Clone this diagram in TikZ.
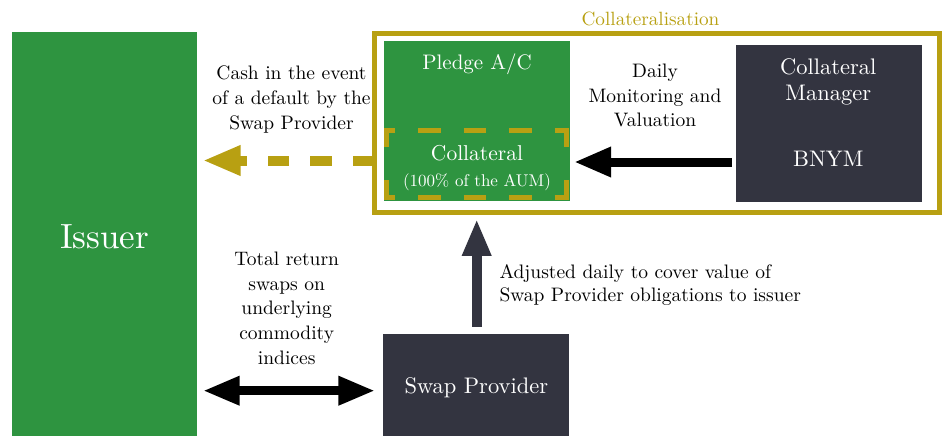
\documentclass[tikz,border=0pt]{standalone}
\usepackage{fontspec}
\setmainfont{lmroman10-regular.otf}
\usepackage{tikz}
\usetikzlibrary{arrows.meta}
\definecolor{issuergreen}{RGB}{46,148,64}
\definecolor{darkbox}{RGB}{51,52,64}
\definecolor{gold}{RGB}{184,160,18}

\begin{document}
\begin{tikzpicture}[x=1pt,y=-1pt,
  box/.style={inner sep=0pt, outer sep=0pt},
  txt/.style={font=\fontsize{19.5}{24.6}\selectfont, align=center, anchor=base},
  wtxt/.style={text=white, font=\fontsize{22.5}{25}\selectfont, align=center, anchor=base}]
        \useasboundingbox (0,0) rectangle (946,436);
        \node [box, fill=issuergreen, minimum width=185pt, minimum height=404pt] (issuer) at (104.7,234) {};
        \node [wtxt, font=\fontsize{35}{38}\selectfont] (issuertext) at (104.7,248) {Issuer};
        \node [box, draw=gold, line width=5pt, minimum width=565pt, minimum height=179.5pt] (frame) at (656.7,123.2) {};
        \node [txt, text=gold, font=\fontsize{19.2}{22}\selectfont] (frametext) at (650.5,26) {Collateralisation};
        \node [box, fill=issuergreen, minimum width=186pt, minimum height=160pt] (pledge) at (477,121) {};
        \node [box, minimum width=185pt, minimum height=72pt] (coll) at (476.5,164) {};
        \draw [gold, line width=5pt, dash pattern=on 22.5pt off 23pt, dash phase=11.5pt] ([yshift=-2.5pt]coll.north west) -- ([yshift=-2.5pt]coll.north east);
        \draw [gold, line width=5pt, dash pattern=on 22.5pt off 23pt, dash phase=11.5pt] ([yshift=2.5pt]coll.south west) -- ([yshift=2.5pt]coll.south east);
        \draw [gold, line width=5pt, dash pattern=on 19pt off 33pt] ([xshift=2.5pt]coll.north west) -- ([xshift=2.5pt]coll.south west);
        \draw [gold, line width=5pt, dash pattern=on 19pt off 33pt] ([xshift=-2.5pt]coll.north east) -- ([xshift=-2.5pt]coll.south east);
        \node [wtxt, font=\fontsize{21}{24}\selectfont] (pledgetext) at (477,69.3) {Pledge A/C};
        \node [wtxt, font=\fontsize{21.5}{24}\selectfont] (colltext) at (477,160.7) {Collateral};
        \node [wtxt, font=\fontsize{17}{20}\selectfont] (aumtext) at (477,186) {(100\% of the AUM)};
        \node [box, fill=darkbox, minimum width=185.7pt, minimum height=156.7pt] (manager) at (828.8,123.3) {};
        \node [wtxt] (managertext) at (828.3,100) {Collateral\\Manager};
        \node [wtxt] (bnym) at (828.3,166.7) {BNYM};
        \node [box, fill=darkbox, minimum width=186pt, minimum height=102pt] (swap) at (476.3,385) {};
        \node [wtxt] (swaptext) at (476.3,393.7) {Swap Provider};
        \node [txt] (daily) at (655,126.7) {Daily\\Monitoring and\\Valuation};
        \node [txt] (cash) at (291.5,129) {Cash in the event\\of a default by the\\Swap Provider};
        \node [txt] (trs) at (286.7,364) {Total return\\swaps on\\underlying\\commodity\\indices};
        \node [txt, align=left, anchor=base west, font=\fontsize{19.5}{23.4}\selectfont] (adjusted) at (496,301.7) {Adjusted daily to cover value of\\Swap Provider obligations to issuer};
        \draw [line width=9pt, -{Triangle[length=37pt, width=28pt]}, shorten <=4pt, shorten >=4pt] (manager.west |- 0,162) -- (pledge.east |- 0,162);
        \draw [gold, line width=10pt, dash pattern=on 21.5pt off 21pt, -{Triangle[length=38pt, width=28pt]}, shorten >=5.5pt] (frame.west |- 0,160.5) -- (issuer.east |- 0,160.5);
        \draw [darkbox, line width=10pt, -{Triangle[length=37pt, width=27pt]}, shorten <=7.3pt, shorten >=6pt] (swap.north -| 476.7,0) -- (frame.south -| 476.7,0);
        \draw [line width=9.3pt, {Triangle[length=37pt, width=27pt]}-{Triangle[length=37pt, width=27pt]}, shorten <=5.5pt, shorten >=8pt] (issuer.east |- 0,390.7) -- (swap.west |- 0,390.7);
\end{tikzpicture}
\end{document}
